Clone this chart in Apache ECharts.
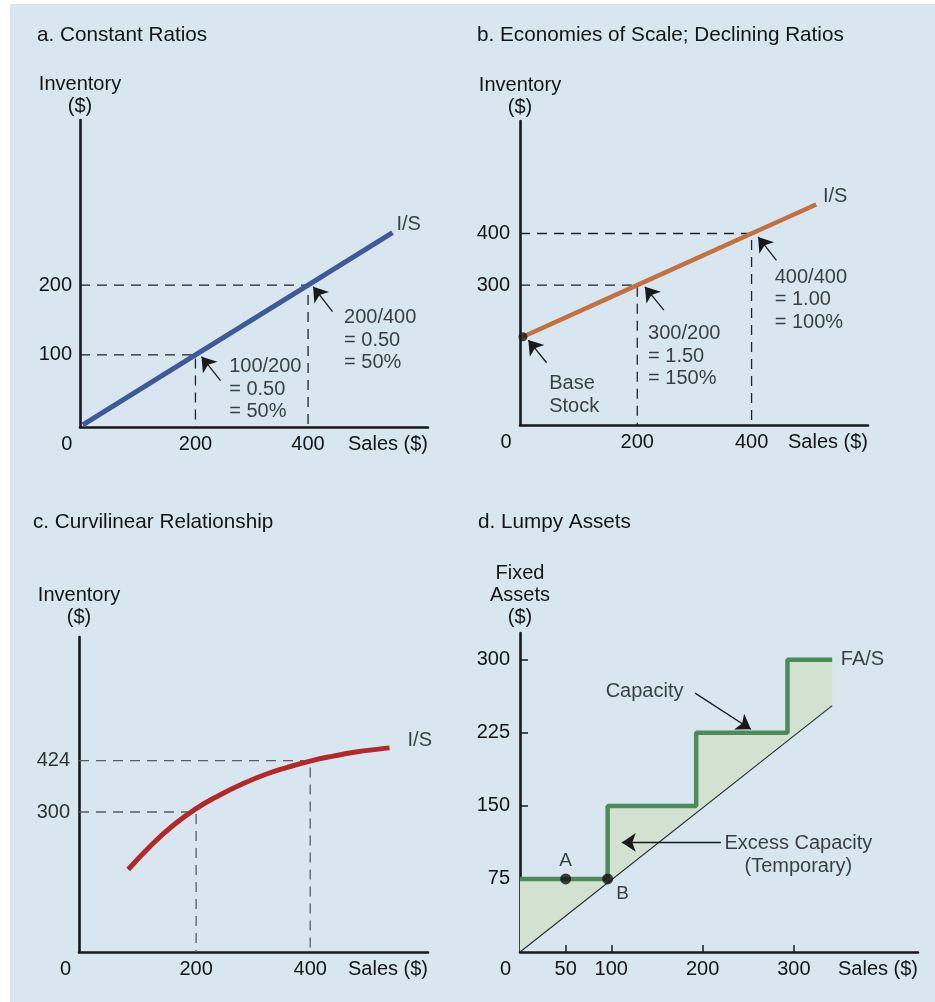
<!DOCTYPE html>
<html>
<head>
<meta charset="utf-8">
<script src="https://cdn.jsdelivr.net/npm/echarts@6/dist/echarts.min.js"></script>
<style>
html,body{margin:0;padding:0;background:#fff;}
#chart{width:935px;height:1002px;}
</style>
</head>
<body>
<div id="chart"></div>
<script>
// ---------- data ----------
const panelTitles = ['a. Constant Ratios', 'b. Economies of Scale; Declining Ratios', 'c. Curvilinear Relationship', 'd. Lumpy Assets'];
const salesLabelValues = [0, 200, 400];
const dSalesLabelValues = [0, 50, 100, 200, 300];
const dSalesTickValues = [50, 100, 200, 300];

// a. constant ratios
const aInvTicks = [100, 200];
const aLine = [[0, 0], [200, 100], [400, 200], [550, 275]];
const aMarked = [[200, 100], [400, 200]];
const aNotes = ['100/200\n= 0.50\n= 50%', '200/400\n= 0.50\n= 50%'];

// b. economies of scale
const bInvTicks = [300, 400];
const bLine = [[0, 200], [200, 300], [400, 400], [513, 456]];
const bMarked = [[200, 300], [400, 400]];
const bBase = [[0, 200]];
const bNotes = ['300/200\n= 1.50\n= 150%', '400/400\n= 1.00\n= 100%', 'Base\nStock'];

// c. curvilinear
const cInvTicks = [300, 424];
const cCurve = [[81, 161], [120, 218], [160, 268], [200, 308], [240, 340], [280, 367], [320, 390], [360, 408], [400, 423], [440, 435], [480, 445], [520, 452], [539, 455]];
const cMarked = [[200, 300], [400, 424]];

// d. lumpy assets
const dAssetTicks = [75, 150, 225, 300];
const dCapacity = [[0, 75], [96, 75], [96, 150], [193, 150], [193, 225], [293, 225], [293, 300], [342, 300]];
const dSalesLine = [[0, 0], [342, 253]];
const dPointNames = ['A', 'B'];
const dPointValues = [[50, 75], [96, 75]];
const dNotes = ['Capacity', 'Excess Capacity\n(Temporary)'];

// ---------- style ----------
const FONT = '"Liberation Sans", Arial, Helvetica, sans-serif';
const TXT = '#141414';
const BG = '#d7e6ef';
const AX = '#1a1a1a';
const FS = 20;

const ranges = [
  {x: [-5, 613], y: [-3, 436]},
  {x: [-5.2, 603.7], y: [29.2, 617.8]},
  {x: [-5.3, 606.5], y: [-38.4, 723]},
  {x: [0, 436], y: [0, 327.5]}
];

function xAxis(i, labels, zeroPad, ticks) {
  return {
    type: 'value', gridIndex: i, min: ranges[i].x[0], max: ranges[i].x[1],
    splitLine: {show: false},
    axisLine: {onZero: false, lineStyle: {color: AX, width: 2.6}},
    axisTick: ticks ? {show: true, inside: true, length: 7, customValues: ticks, lineStyle: {color: AX, width: 1.5}} : {show: false},
    axisLabel: {
      customValues: labels, margin: 7, fontSize: FS, fontFamily: FONT, color: TXT,
      formatter: v => v === 0 ? '{z|0}' : String(v),
      rich: {z: {fontSize: FS, fontFamily: FONT, color: TXT, padding: [0, zeroPad, 0, 0]}}
    },
    name: 'Sales ($)', nameLocation: 'end', nameGap: 0, nameMoveOverlap: false,
    nameTextStyle: {fontSize: FS, fontFamily: FONT, color: TXT, align: 'right', verticalAlign: 'top', padding: [7, 0, 0, 0]}
  };
}
function yAxis(i, labels, name, gap, margin, ticks, labelColor) {
  return {
    type: 'value', gridIndex: i, min: ranges[i].y[0], max: ranges[i].y[1],
    splitLine: {show: false},
    axisLine: {onZero: false, lineStyle: {color: AX, width: 2.6}},
    axisTick: ticks ? {show: true, inside: true, length: 8, customValues: ticks, lineStyle: {color: AX, width: 1.5}} : {show: false},
    axisLabel: {customValues: labels, margin: margin, fontSize: FS, fontFamily: FONT, color: labelColor || TXT},
    name: name, nameLocation: 'end', nameGap: gap, nameMoveOverlap: false,
    nameTextStyle: {fontSize: FS, fontFamily: FONT, color: TXT, align: 'center', verticalAlign: 'bottom', lineHeight: 22}
  };
}
function guide(i, pt, color) {
  return {
    type: 'line', xAxisIndex: i, yAxisIndex: i, silent: true, symbol: 'none', z: 1,
    data: [[ranges[i].x[0], pt[1]], pt, [pt[0], ranges[i].y[0]]],
    lineStyle: {type: [10, 7], width: 1.3, color: color}
  };
}
function arrows(i, segs) {
  return {
    type: 'lines', coordinateSystem: 'cartesian2d', xAxisIndex: i, yAxisIndex: i, silent: true, z: 5,
    symbol: ['none', 'arrow'], symbolSize: [8, 14],
    lineStyle: {color: '#1a1a1a', width: 1.3, opacity: 1},
    data: segs.map(s => ({coords: s}))
  };
}
function notes(i, items) {
  return {
    type: 'scatter', xAxisIndex: i, yAxisIndex: i, silent: true, symbolSize: 0.1, z: 6,
    itemStyle: {color: 'rgba(0,0,0,0)'},
    data: items.map(it => ({
      value: it.at,
      label: {show: true, formatter: it.text, position: [0, 0], align: it.align || 'left', verticalAlign: it.va || 'top',
        fontSize: it.fs || FS, fontFamily: FONT, color: TXT, lineHeight: 22.5}
    }))
  };
}
function curve(i, data, color, width, smooth) {
  return {type: 'line', xAxisIndex: i, yAxisIndex: i, data: data, symbol: 'none', smooth: smooth || false, z: 3,
    lineStyle: {color: color, width: width, cap: 'butt'}};
}

const titlePos = [[37, 25], [477, 25], [33, 512], [478, 512]];

const option = {
  animation: false,
  backgroundColor: '#ffffff',
  graphic: [{type: 'rect', z: -100, silent: true, shape: {x: 10, y: 4, width: 925, height: 998}, style: {fill: BG}}],
  title: panelTitles.map((t, k) => ({
    text: t, left: titlePos[k][0], top: titlePos[k][1], padding: 0,
    textStyle: {fontSize: 20.7, fontWeight: 'normal', fontFamily: FONT, color: TXT}
  })),
  grid: [
    {left: 80, top: 120, width: 348, height: 307},
    {left: 520, top: 121, width: 348, height: 304},
    {left: 79, top: 637, width: 349, height: 315},
    {left: 520, top: 633, width: 398, height: 319}
  ],
  xAxis: [
    xAxis(0, salesLabelValues, 32),
    xAxis(1, salesLabelValues, 34),
    xAxis(2, salesLabelValues, 33),
    xAxis(3, dSalesLabelValues, 29, dSalesTickValues)
  ],
  yAxis: [
    yAxis(0, aInvTicks, 'Inventory\n($)', 3, 8),
    yAxis(1, bInvTicks, 'Inventory\n($)', 3, 10),
    yAxis(2, cInvTicks, 'Inventory\n($)', 9, 9, null, '#333'),
    yAxis(3, dAssetTicks, 'Fixed\nAssets\n($)', 5, 10, dAssetTicks)
  ],
  series: [
    // a
    guide(0, aMarked[0], '#222'), guide(0, aMarked[1], '#222'),
    curve(0, aLine, '#3f5a98', 5),
    arrows(0, [[[244.6, 63.3], [210.8, 97.6]], [[443.5, 161.9], [409, 197.6]]]),
    notes(0, [
      {at: [260, 99.3], text: aNotes[0]},
      {at: [464, 169.6], text: aNotes[1]},
      {at: [557, aLine[3][1] + 12], text: 'I/S', va: 'middle'}
    ]),
    // b
    guide(1, bMarked[0], '#222'), guide(1, bMarked[1], '#222'),
    curve(1, bLine, '#c4703f', 4.5),
    {type: 'scatter', xAxisIndex: 1, yAxisIndex: 1, data: bBase, symbolSize: 9, itemStyle: {color: '#1a1a1a'}, z: 4, silent: true},
    arrows(1, [[[246.5, 251.6], [213.3, 296.7]], [[443.5, 348], [411.4, 393.4]], [[41.4, 149.7], [9.3, 193.6]]]),
    notes(1, [
      {at: [219, 227.9], text: bNotes[0]},
      {at: [440.6, 337.3], text: bNotes[1]},
      {at: [46, 131], text: bNotes[2]},
      {at: [525, 470.8], text: 'I/S', va: 'middle'}
    ]),
    // c
    guide(2, cMarked[0], '#5c5c5c'), guide(2, cMarked[1], '#5c5c5c'),
    curve(2, cCurve, '#b5282a', 5, 0.5),
    notes(2, [{at: [570.7, 472], text: 'I/S', va: 'middle'}]),
    // d
    {
      type: 'custom', xAxisIndex: 3, yAxisIndex: 3, silent: true, z: 1, data: [[0, 0]],
      renderItem: function (params, api) {
        const pts = dCapacity.concat(dSalesLine.slice().reverse()).map(p => api.coord(p));
        return {type: 'polygon', shape: {points: pts}, style: {fill: '#d2e1d0'}};
      }
    },
    curve(3, dSalesLine, '#2a2a2a', 1.1),
    curve(3, dCapacity, '#4f8a59', 4.5),
    {
      type: 'scatter', xAxisIndex: 3, yAxisIndex: 3, silent: true, z: 5, symbolSize: 11,
      itemStyle: {color: '#111'},
      data: dPointValues.map((v, k) => ({
        value: v, name: dPointNames[k],
        label: k === 0
          ? {show: true, formatter: '{b}', position: 'top', distance: 3, fontSize: 19, fontFamily: FONT, color: TXT}
          : {show: true, formatter: '{b}', position: 'bottom', offset: [15, 0], distance: 0, fontSize: 19, fontFamily: FONT, color: TXT}
      }))
    },
    arrows(3, [[[191.8, 265.8], [252.9, 228.7]], [[220, 112.5], [111.5, 112.5]]]),
    notes(3, [
      {at: [93.9, 267.4], text: dNotes[0], va: 'middle'},
      {at: [305, 99.5], text: dNotes[1], va: 'middle', align: 'center'},
      {at: [351.5, 300], text: 'FA/S', va: 'middle'}
    ])
  ]
};

const chart = echarts.init(document.getElementById('chart'), null, {renderer: 'canvas'});
chart.setOption(option);
</script>
</body>
</html>
